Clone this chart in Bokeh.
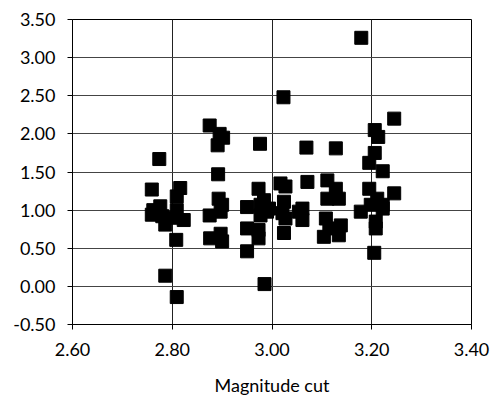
from bokeh.plotting import figure
from bokeh.models import FixedTicker, PrintfTickFormatter, Range1d
from bokeh.embed import file_html
from bokeh.resources import INLINE

magnitude_cut = [
    2.759, 2.774, 2.816, 2.809, 2.776, 2.759, 2.762, 2.809, 2.786, 2.823,
    2.803, 2.780, 2.808, 2.786, 2.809, 2.875, 2.895, 2.902, 2.891, 2.892,
    2.893, 2.900, 2.897, 2.875, 2.876, 2.897, 2.900, 2.950, 2.950, 2.950,
    2.976, 2.973, 2.984, 2.977, 2.994, 2.977, 2.973, 2.973, 2.985, 2.990,
    3.023, 3.017, 3.027, 3.024, 3.021, 3.027, 3.024, 3.069, 3.071, 3.061,
    3.061, 3.054, 3.128, 3.111, 3.128, 3.134, 3.111, 3.108, 3.115, 3.138,
    3.104, 3.134, 3.179, 3.245, 3.206, 3.213, 3.206, 3.195, 3.222, 3.195,
    3.245, 3.222, 3.211, 3.198, 3.178, 3.222, 3.208, 3.208, 3.205,
]
values = [
    1.27, 1.67, 1.29, 1.18, 1.05, 0.94, 1.00, 1.00, 0.81, 0.87,
    0.90, 0.92, 0.61, 0.14, -0.14, 2.11, 2.00, 1.95, 1.85, 1.47,
    1.15, 1.07, 0.98, 0.93, 0.63, 0.69, 0.59, 1.04, 0.76, 0.46,
    1.87, 1.28, 1.13, 0.93, 1.02, 1.07, 0.74, 0.63, 0.03, 0.98,
    2.48, 1.35, 1.31, 1.11, 0.96, 0.89, 0.70, 1.82, 1.37, 1.02,
    0.87, 0.98, 1.81, 1.39, 1.28, 1.15, 1.15, 0.89, 0.76, 0.80,
    0.65, 0.67, 3.26, 2.20, 2.05, 1.96, 1.75, 1.62, 1.51, 1.28,
    1.22, 1.07, 1.15, 1.07, 0.98, 1.02, 0.85, 0.76, 0.44,
]
x_ticks = [2.60, 2.80, 3.00, 3.20, 3.40]
y_ticks = [-0.50, 0.00, 0.50, 1.00, 1.50, 2.00, 2.50, 3.00, 3.50]
x_label = "Magnitude cut"

FONT = "Lato"

p = figure(width=493, height=398, output_backend="svg", toolbar_location=None,
           x_range=Range1d(2.6, 3.4), y_range=Range1d(-0.5, 3.5),
           min_border_left=72, min_border_right=22, min_border_top=19,
           min_border_bottom=73)

p.scatter(magnitude_cut, values, marker="square", size=13,
          fill_color="black", line_color="black")

p.outline_line_color = "black"
p.outline_line_width = 1

p.xaxis.ticker = FixedTicker(ticks=x_ticks)
p.yaxis.ticker = FixedTicker(ticks=y_ticks)
p.xaxis.formatter = PrintfTickFormatter(format="%.2f")
p.yaxis.formatter = PrintfTickFormatter(format="%.2f")

for ax in (p.xaxis[0], p.yaxis[0]):
    ax.axis_line_color = "black"
    ax.major_tick_line_color = "black"
    ax.major_tick_out = 5
    ax.major_tick_in = 0
    ax.minor_tick_line_color = None
    ax.major_label_text_font = FONT
    ax.major_label_text_font_size = "18px"
    ax.major_label_text_color = "black"

p.xaxis.major_label_standoff = 13
p.yaxis.major_label_standoff = 12

p.xaxis.axis_label = x_label
p.xaxis.axis_label_text_font = FONT
p.xaxis.axis_label_text_font_size = "18px"
p.xaxis.axis_label_text_font_style = "normal"
p.xaxis.axis_label_text_color = "black"
p.xaxis.axis_label_standoff = 15

p.xgrid.grid_line_color = "#222222"
p.ygrid.grid_line_color = "#444444"
p.xgrid.grid_line_width = 1
p.ygrid.grid_line_width = 1

open("out.html", "w").write(file_html(p, INLINE))
